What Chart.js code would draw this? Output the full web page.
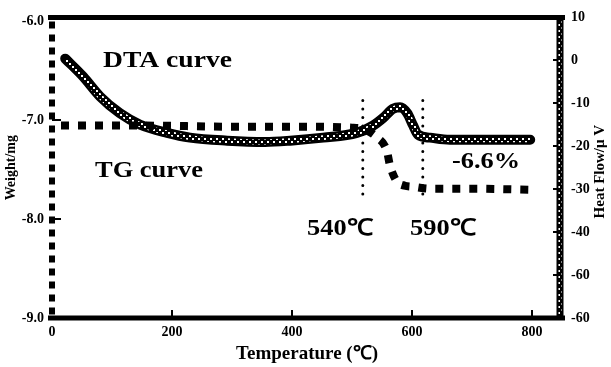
<!DOCTYPE html>
<html>
<head>
<meta charset="utf-8">
<script src="https://cdn.jsdelivr.net/npm/chart.js@4.4.1/dist/chart.umd.min.js"></script>
<style>
html,body{margin:0;padding:0;background:#fff;}
#c{display:block;}
</style>
</head>
<body>
<canvas id="c" width="611" height="367"></canvas>
<script>
// ---------- data ----------
const tgTemps   = [15, 150, 300, 400, 500, 522, 542, 558, 563, 568, 575, 588, 602, 630, 700, 797];
const tgWeights = [-7.054, -7.054, -7.065, -7.065, -7.075, -7.095, -7.176, -7.308, -7.450, -7.541, -7.622, -7.662, -7.673, -7.693, -7.693, -7.703];

const dtaTemps  = [22, 52, 80, 113, 147, 192, 230, 292, 355, 397, 452, 508, 535, 552, 568, 580, 592, 602, 610, 630, 663, 797];
const dtaValues = [0.4, -3.8, -8.4, -12.3, -15.0, -16.9, -18.0, -18.7, -19.0, -18.7, -18.0, -16.9, -15.2, -13.4, -11.3, -10.9, -12.3, -15.2, -17.3, -18.0, -18.5, -18.5];

const markerTemps   = [518, 618];
const markerWeights = [-6.80, -7.80];

const xTickValues = [0, 200, 400, 600, 800];
const leftTickValues = [-9, -8, -7, -6];
const leftTickLabels = ['-9.0', '-8.0', '-7.0', '-6.0'];
const rightTickValues = [-60, -50, -40, -30, -20, -10, 0, 10];
const rightTickLabels = ['-60', '-60', '-40', '-30', '-20', '-10', '0', '10'];

const xTitle = 'Temperature (℃)';
const leftTitle = 'Weight/mg';
const rightTitle = 'Heat Flow/μ V';
const notes = ['DTA curve', 'TG curve', '-6.6%', '540℃', '590℃'];

// ---------- chart ----------
const SERIF = '"Liberation Serif", "Times New Roman", serif';
const tickFont = {family: SERIF, size: 14, weight: 'bold'};

function pts(xs, ys){ return xs.map((x,i)=>({x:x, y:ys[i]})); }

// dotted texture used for the DTA band
function makeDots(){
  const t = document.createElement('canvas');
  t.width = 6; t.height = 6;
  const g = t.getContext('2d');
  g.fillStyle = '#000'; g.fillRect(0,0,6,6);
  g.fillStyle = '#fff';
  g.fillRect(0,0,2,2);
  g.fillRect(3,3,2,2);
  return g.createPattern(t, 'repeat');
}
const dots = makeDots();

const framePlugin = {
  id: 'frame',
  beforeDatasetsDraw(chart){
    const {ctx, chartArea:a, scales} = chart;
    ctx.save();
    ctx.strokeStyle = '#000';
    ctx.lineWidth = 2;
    [-8, -7].forEach(v=>{
      const y = Math.round(scales.yL.getPixelForValue(v));
      ctx.beginPath(); ctx.moveTo(a.left, y); ctx.lineTo(a.left+9, y); ctx.stroke();
    });
    [-50, -40, -30, -20, -10, 0].forEach(v=>{
      const y = Math.round(scales.yR.getPixelForValue(v));
      ctx.beginPath(); ctx.moveTo(a.right, y); ctx.lineTo(a.right-9, y); ctx.stroke();
    });
    [200, 400, 600, 800].forEach(v=>{
      const x = Math.round(scales.x.getPixelForValue(v));
      ctx.beginPath(); ctx.moveTo(x, a.bottom); ctx.lineTo(x, a.bottom-8); ctx.stroke();
    });
    ctx.restore();
  },
  afterDatasetsDraw(chart){
    const {ctx, chartArea:a} = chart;
    ctx.save();
    ctx.strokeStyle = '#000';
    ctx.lineWidth = 5;
    ctx.beginPath(); ctx.moveTo(a.left-4, a.top); ctx.lineTo(a.right+3, a.top); ctx.stroke();
    ctx.beginPath(); ctx.moveTo(a.left-4, a.bottom); ctx.lineTo(a.right+3, a.bottom); ctx.stroke();
    ctx.lineWidth = 6;
    ctx.setLineDash([7,6]);
    ctx.beginPath(); ctx.moveTo(a.left, a.top+4); ctx.lineTo(a.left, a.bottom); ctx.stroke();
    ctx.setLineDash([]);
    ctx.lineWidth = 7;
    ctx.beginPath(); ctx.moveTo(a.right-2, a.top); ctx.lineTo(a.right-2, a.bottom); ctx.stroke();
    ctx.strokeStyle = dots;
    ctx.lineWidth = 3;
    ctx.beginPath(); ctx.moveTo(a.right-2, a.top+3); ctx.lineTo(a.right-2, a.bottom-3); ctx.stroke();
    ctx.restore();

    ctx.save();
    ctx.fillStyle = '#000';
    ctx.textBaseline = 'alphabetic';
    ctx.textAlign = 'left';
    function stretch(txt, x, base, size, w, fam){
      ctx.font = 'bold ' + size + 'px ' + (fam || SERIF);
      const m = ctx.measureText(txt).width;
      ctx.save(); ctx.translate(x, base); ctx.scale(w/m, 1); ctx.fillText(txt, 0, 0); ctx.restore();
    }
    stretch(notes[0], 103, 67, 23, 129);
    stretch(notes[1], 95, 177, 23, 108);
    stretch(notes[2], 452, 168, 23, 68);
    stretch(notes[3], 307, 235, 23, 66);
    stretch(notes[4], 410, 235, 23, 66);

    ctx.font = 'bold 15px ' + SERIF;
    ctx.textAlign = 'center';
    ctx.textBaseline = 'middle';
    ctx.translate(600, (a.top + a.bottom)/2 + 4);
    ctx.rotate(-Math.PI/2);
    ctx.fillText(rightTitle, 0, 0);
    ctx.restore();
  }
};

new Chart(document.getElementById('c'), {
  type: 'line',
  data: {
    datasets: [
      {
        label: 'TG', data: pts(tgTemps, tgWeights), yAxisID: 'yL',
        borderColor: '#000', borderWidth: 8, borderDash: [8, 9], borderCapStyle: 'butt',
        pointRadius: 0, cubicInterpolationMode: 'monotone', fill: false, order: 0
      },
      {
        label: 'DTA dots', data: pts(dtaTemps, dtaValues), yAxisID: 'yR',
        borderColor: dots, borderWidth: 5,
        pointRadius: 0, cubicInterpolationMode: 'monotone', fill: false, order: 1
      },
      {
        label: 'DTA', data: pts(dtaTemps, dtaValues), yAxisID: 'yR',
        borderColor: '#000', borderWidth: 10, borderCapStyle: 'round',
        pointRadius: 0, cubicInterpolationMode: 'monotone', fill: false, order: 2
      },
      {
        label: 'm1', data: pts([markerTemps[0], markerTemps[0]], markerWeights), yAxisID: 'yL',
        borderColor: '#000', borderWidth: 3, borderDash: [0.01, 8.5], borderCapStyle: 'round',
        pointRadius: 0, fill: false, order: 3
      },
      {
        label: 'm2', data: pts([markerTemps[1], markerTemps[1]], markerWeights), yAxisID: 'yL',
        borderColor: '#000', borderWidth: 3, borderDash: [0.01, 8.5], borderCapStyle: 'round',
        pointRadius: 0, fill: false, order: 3
      }
    ]
  },
  options: {
    responsive: false,
    animation: false,
    devicePixelRatio: 1,
    layout: {padding: {top: 13, left: 0, right: 0, bottom: 0}},
    plugins: {legend: {display: false}, tooltip: {enabled: false}},
    scales: {
      x: {
        type: 'linear', position: 'bottom', min: 0, max: 850,
        afterBuildTicks: s => { s.ticks = xTickValues.map(v => ({value: v})); },
        afterFit: s => { s.height = 49; },
        grid: {display: false, drawTicks: false},
        border: {display: false},
        ticks: {font: tickFont, color: '#000', padding: 6, maxRotation: 0, autoSkip: false, callback: v => String(v)},
        title: {display: true, text: xTitle, color: '#000', font: {family: SERIF, size: 19, weight: 'bold'}, padding: {top: 0, bottom: 2}}
      },
      yL: {
        type: 'linear', position: 'left', min: -9, max: -5.96,
        afterBuildTicks: s => { s.ticks = leftTickValues.map(v => ({value: v})); },
        afterFit: s => { s.width = 52; },
        grid: {display: false, drawTicks: false},
        border: {display: false},
        ticks: {font: tickFont, color: '#000', padding: 8, autoSkip: false,
          callback: v => leftTickLabels[leftTickValues.indexOf(v)]},
        title: {display: true, text: leftTitle, color: '#000', font: {family: SERIF, size: 14, weight: 'bold'}, padding: {top: 3, bottom: 0}}
      },
      yR: {
        type: 'linear', position: 'right', min: -60, max: 10,
        afterBuildTicks: s => { s.ticks = rightTickValues.map(v => ({value: v})); },
        afterFit: s => { s.width = 49; },
        grid: {display: false, drawTicks: false},
        border: {display: false},
        ticks: {font: tickFont, color: '#000', padding: 9, autoSkip: false,
          callback: v => rightTickLabels[rightTickValues.indexOf(v)]}
      }
    }
  },
  plugins: [framePlugin]
});
</script>
</body>
</html>
